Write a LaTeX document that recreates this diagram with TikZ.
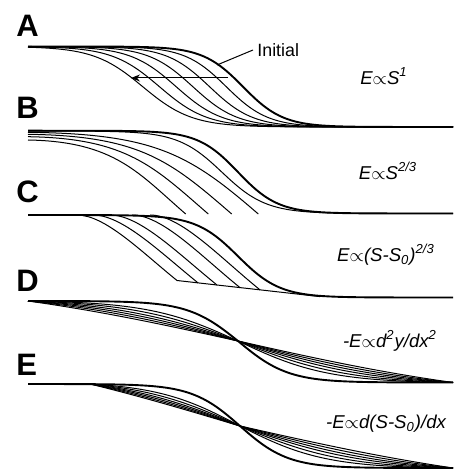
\documentclass[tikz,border=0pt]{standalone}
\usepackage{fontspec}
\setmainfont{Liberation Sans}
\usetikzlibrary{arrows.meta,positioning}

\begin{document}
\begin{tikzpicture}[
  x=0.5pt, y=-0.5pt,
  prof/.style={line width=0.5pt},
  init/.style={line width=0.95pt},
  panel/.style={font=\fontsize{15.5}{18}\selectfont\bfseries, inner sep=0pt, anchor=west},
  law/.style={font=\fontsize{9.3}{11}\selectfont\itshape, inner sep=0pt},
  arr/.style={-{Stealth[length=4.5pt, width=3.5pt]}, line width=0.5pt},
  declare function={knick(\x,\c,\s)=0.5*(1+tanh((\x-\c)/\s));}
]
\useasboundingbox (0,0) rectangle (464,469);

% --- panel letters and erosion laws ---
\node[panel] (pA) at (16,26) {A};
\node[panel] (pB) at (16,108) {B};
\node[panel] (pC) at (16,192) {C};
\node[panel] (pD) at (16,281) {D};
\node[panel] (pE) at (16,365) {E};

\node[law] (lawA) at (384,76) {E$\propto$S\textsuperscript{1}};
\node[law] (lawB) at (388,171) {E$\propto$S\textsuperscript{2/3}};
\node[law] (lawC) at (386,255) {E$\propto$(S-S\textsubscript{0})\textsuperscript{2/3}};
\node[law] (lawD) at (390,341) {-E$\propto$d\textsuperscript{2}y/dx\textsuperscript{2}};
\node[law] (lawE) at (386,424) {-E$\propto$d(S-S\textsubscript{0})/dx};

% --- A: pure translation ---
\draw[init] plot[domain=28:453, samples=160] (\x, {46.5+80.5*knick(\x,243,40)});
\foreach \i in {1,...,6}
  \draw[prof] plot[domain=28:453, samples=160] (\x, {46.5+80.5*knick(\x,243-16.7*\i,40+1.5*\i)});

\node[font=\fontsize{8.9}{10}\selectfont, inner sep=2pt, anchor=west] (initlbl) at (253,50) {Initial};
\coordinate (initpt) at (217,65);
\draw[prof] (initpt) -- (initlbl.west);
\coordinate (arrS) at (228,78);
\coordinate (arrE) at (131,78);
\draw[arr] (arrS) -- (arrE);

% --- B: n = 2/3, fronts cut off at the base ---
\draw[init] plot[domain=28:453, samples=160] (\x, {130.7+82.8*knick(\x,238,40)});
\draw[prof] plot[domain=28:453, samples=160] (\x, {131+82.5*knick(\x,222,44)});
\foreach \yl/\xe in {132.3/258.3, 134.3/231.7, 136.7/208.3, 140/185.7}
  \draw[prof] (28,\yl) .. controls ({28+0.55*(\xe-28)},{\yl+1.5})
    and ({\xe-0.3*(\xe-28)},{214-0.26*(\xe-28)}) .. (\xe,214);

% --- C: threshold slope S0 ---
\draw[init] plot[domain=28:453, samples=160] (\x, {215+82.5*knick(\x,238,42)});
\foreach \d/\e in {77/177, 93/198, 110/217, 132/240, 150/260}
  \draw[prof] (\d,215) .. controls ({\d+0.28*(\e-\d)},215)
    and ({\e-0.37*(\e-\d)},{280.5+0.113*(\e-177)-0.3*(\e-\d)}) .. (\e,{280.5+0.113*(\e-177)});
\draw[prof] (177,280.5) -- (320,296.6);

% --- D: diffusion ---
\draw[init] plot[domain=28:453, samples=200]
  (\x, {\x<238 ? 341-40*tanh((\x-238)/50)/tanh(-210/50) : 341+41.5*tanh((\x-238)/50)/tanh(215/50)});
\foreach \s in {90,110,135,165,210,300}
  \draw[prof] plot[domain=28:453, samples=200]
    (\x, {\x<238 ? 341-40*tanh((\x-238)/\s)/tanh(-210/\s) : 341+41.5*tanh((\x-238)/\s)/tanh(215/\s)});

% --- E: slope-dependent ---
\draw[init] plot[domain=28:453, samples=200]
  (\x, {\x<240 ? 426-42*tanh((\x-240)/48)/tanh(-212/48) : 426+42*tanh((\x-240)/48)/tanh(213/48)});
\draw[prof] (28,384) -- (90,384);
\foreach \s in {85,105,130,160,210,320}
  \draw[prof] plot[domain=90:453, samples=200]
    (\x, {\x<240 ? 426-42*tanh((\x-240)/\s)/tanh(-150/\s) : 426+42*tanh((\x-240)/\s)/tanh(213/\s)});
\end{tikzpicture}
\end{document}
